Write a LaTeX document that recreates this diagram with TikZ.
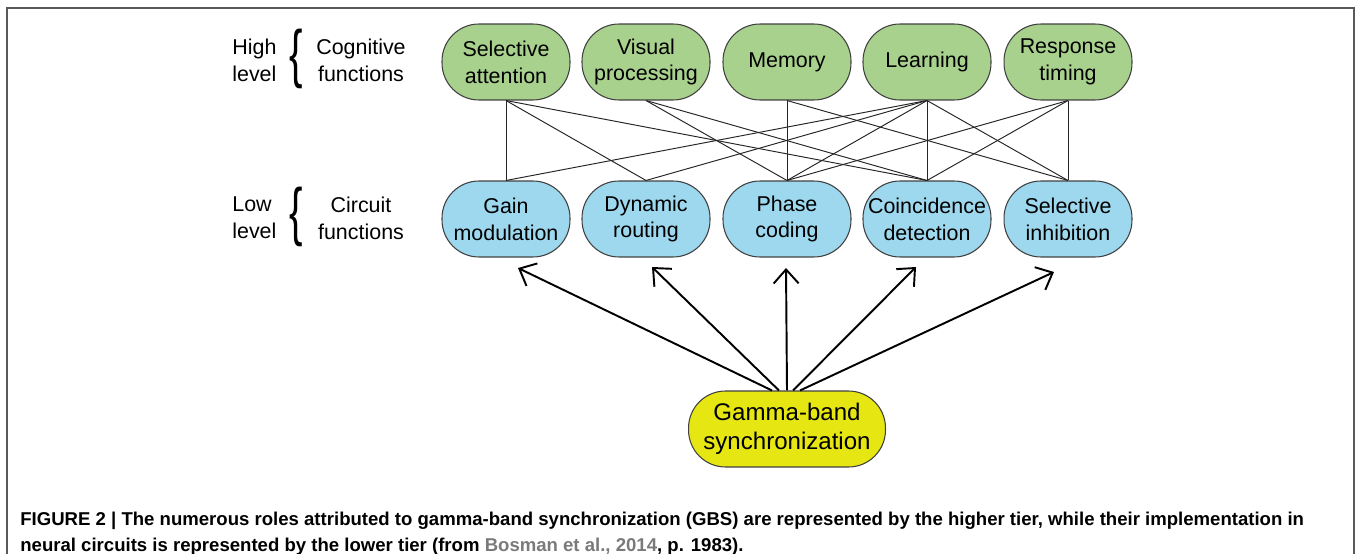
\documentclass[tikz,border=0pt]{standalone}
\usepackage{fontspec}
\setmainfont{Liberation Sans}
\usetikzlibrary{arrows.meta, positioning, calc}

\definecolor{cogGreen}{HTML}{A9D18E}
\definecolor{circBlue}{HTML}{9DD8EE}
\definecolor{gbsYellow}{HTML}{E6E612}
\definecolor{refGray}{HTML}{7A7A7A}

\tikzset{
  tier/.style={draw=black!75, line width=0.6pt, rounded corners=0.74cm,
    minimum width=2.56cm, minimum height=1.52cm, inner sep=2pt,
    align=center, font=\fontsize{12.2}{15.3}\selectfont},
  high/.style={tier, fill=cogGreen},
  low/.style={tier, fill=circBlue},
  lbl/.style={align=left, inner sep=0pt, font=\fontsize{12.2}{15.3}\selectfont},
  brace/.style={inner sep=0pt, font=\fontsize{27}{27}\selectfont},
  link/.style={draw=black!85, line width=0.55pt},
  drive/.style={line width=1.1pt, -{Straight Barb[length=2.8mm,width=5mm]}},
}

\begin{document}
\begin{tikzpicture}[x=0.02cm, y=-0.02cm]
  \useasboundingbox (0,0) rectangle (1358,554);
  % Frame
  \draw[black!65, line width=0.9pt] (7,8) rectangle (1354,600);

  % Level labels
  \node[lbl, anchor=west] (hiLvl) at (232,60) {High\\level};
  \node[brace] (hiBrace) at (296,59) {\scalebox{0.85}[1.35]{\{}};
  \node[lbl, align=center] (hiTxt) at (361,60) {Cognitive\\functions};
  \node[lbl, anchor=west] (loLvl) at (232,218) {Low\\level};
  \node[brace] (loBrace) at (296,217) {\scalebox{0.85}[1.35]{\{}};
  \node[lbl, align=center] (loTxt) at (361,218) {Circuit\\functions};

  % Cognitive functions
  \node[high] (sa) at (506,62) {Selective\\attention};
  \node[high] (vp) at (646,62) {Visual\\processing};
  \node[high] (mem) at (787,62) {Memory};
  \node[high] (lrn) at (927,62) {Learning};
  \node[high] (rt) at (1068,62) {Response\\timing};

  % Circuit functions
  \node[low] (gm) at (506,219) {Gain\\modulation};
  \node[low] (dr) at (646,219) {Dynamic\\routing};
  \node[low] (pc) at (787,219) {Phase\\coding};
  \node[low] (cd) at (927,219) {Coincidence\\detection};
  \node[low] (si) at (1068,219) {Selective\\inhibition};

  % Gamma-band synchronization
  \node[tier, fill=gbsYellow, minimum width=3.94cm, minimum height=1.52cm,
    font=\fontsize{13.7}{16.4}\selectfont] (gbs) at (787,429) {Gamma-band\\synchronization};

  % Links between tiers
  \foreach \a/\b in {sa/gm, sa/dr, sa/cd, vp/pc, vp/cd, mem/pc, mem/si,
      lrn/gm, lrn/dr, lrn/pc, lrn/cd, lrn/si, rt/pc, rt/cd, rt/si}
    \draw[link] (\a.south) -- (\b.north);

  % Arrows from GBS
  \coordinate (e1) at (518,268);
  \coordinate (e2) at (652,267);
  \coordinate (e3) at (786,268);
  \coordinate (e4) at (916,267);
  \coordinate (e5) at (1054,272);
  \foreach \dx/\e in {-15/e1, -8/e2, 0/e3, 6/e4, 13/e5}
    \draw[drive] ($(gbs.north)+(\dx,0)$) -- (\e);

  % Caption
  \node[anchor=base west, align=left, inner sep=0pt,
    font=\fontsize{10.57}{14.8}\selectfont\bfseries] (cap) at (20,551)
    {FIGURE 2 | The numerous roles attributed to gamma-band synchronization (GBS) are represented by the higher tier, while their implementation in\\
     neural circuits is represented by the lower tier (from \textcolor{refGray}{Bosman et al., 2014}, p. 1983).};
\end{tikzpicture}
\end{document}
